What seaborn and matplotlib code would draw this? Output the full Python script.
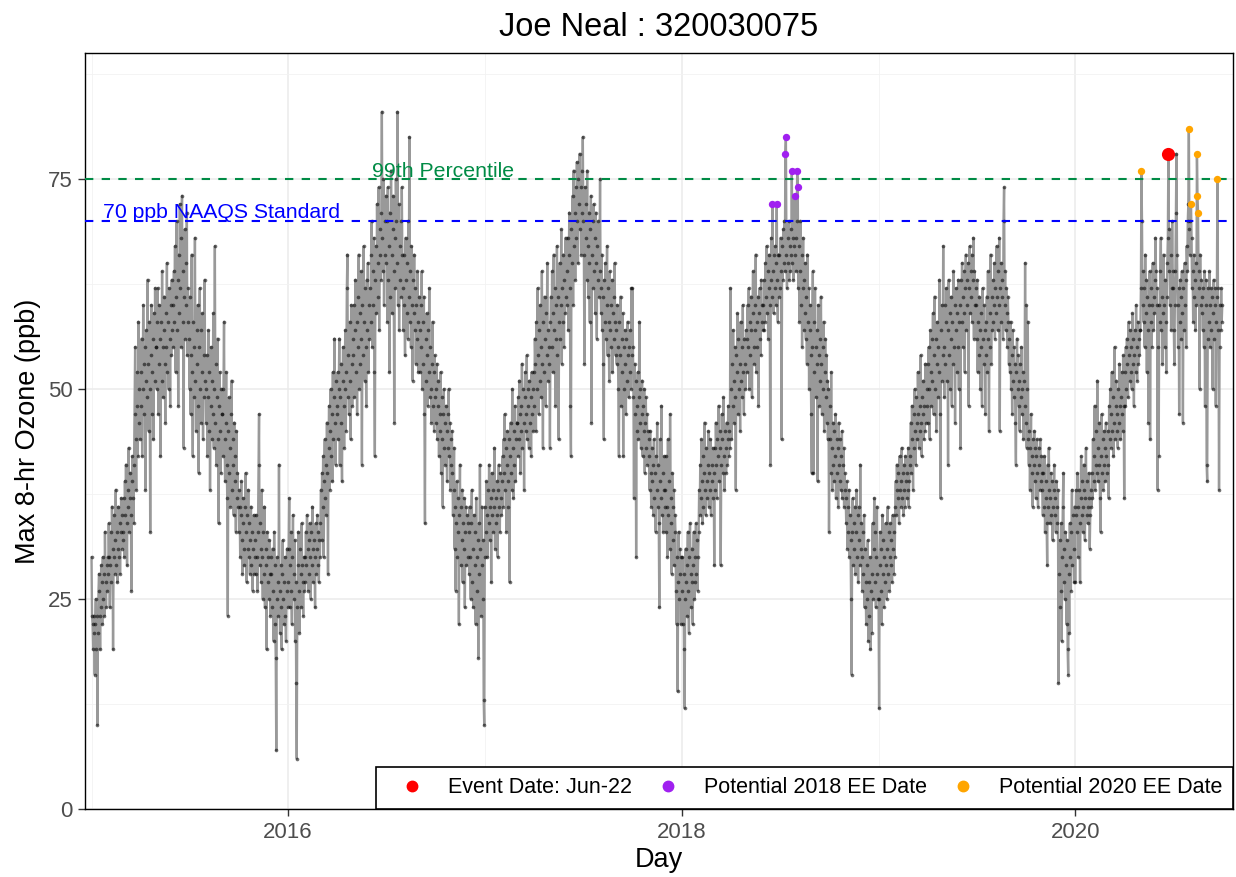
import matplotlib
matplotlib.use('Agg')
import matplotlib.pyplot as plt
import matplotlib.dates as mdates
from matplotlib.lines import Line2D
from matplotlib.ticker import MultipleLocator
import pandas as pd
import seaborn as sns

# daily max 8-hr ozone (ppb), one string per month
ozone_2015 = [
    "30 23 22 19 23 21 16 22 25 19 23 10 21 26 28 23 19 24 29 27 22 30 25 28 23 33 27 24 29 26 30",
    "28 34 30 24 29 33 27 36 31 19 30 35 28 32 38 29 33 27 31 36 30 34 28 33 37 31 35 32",
    "33 37 30 39 35 41 34 29 38 36 43 33 37 40 35 26 39 42 37 34 41 47 55 44 38 48 52 42 58 46 50",
    "44 52 48 56 42 50 60 53 47 55 38 51 57 49 63 53 45 58 50 33 54 60 47 52 56 44 59 51 62 55",
    "55 50 58 62 47 53 60 56 42 58 51 64 55 49 57 61 53 46 59 55 65 52 58 50 62 56 48 60 54 63 57",
    "60 55 64 58 67 52 61 70 57 63 48 66 59 72 62 55 68 73 58 64 43 61 69 56 65 60 71 54 62 58",
    "56 50 61 47 54 66 52 42 58 49 55 68 51 45 57 53 60 48 40 55 62 50 46 57 52 59 44 54 49 63 51",
    "50 46 54 42 49 57 45 52 38 48 55 44 51 47 59 43 50 67 46 53 41 49 56 44 34 48 52 45 40 50 47",
    "47 42 50 58 44 39 46 52 41 37 23 45 49 40 43 36 47 51 38 44 41 35 46 39 42 33 45 37 40 36",
    "38 33 36 30 35 39 32 28 34 37 31 29 36 40 33 27 35 31 38 30 34 28 32 36 29 33 26 31 35 28 30",
    "32 28 35 30 26 33 41 47 29 34 31 27 38 30 25 33 28 36 24 31 29 19 33 27 30 25 32 28 23 30",
    "28 24 31 26 20 33 29 22 18 7 25 30 27 23 41 26 21 29 24 19 28 32 25 22 27 30 23 20 26 31 24",
]
ozone_2016 = [
    "27 31 37 24 29 33 26 22 30 35 28 25 32 20 27 15 6 24 29 33 26 21 31 28 24 34 29 27 23 30 26",
    "30 27 33 29 35 31 26 32 28 34 30 25 33 29 36 31 27 32 30 24 34 28 31 35 29 33 27 32 30",
    "34 38 32 40 36 42 30 39 44 37 41 35 46 40 28 43 48 38 45 50 42 47 39 52 44 49 56 46 41 51 48",
    "47 52 44 50 56 41 49 53 46 39 51 55 48 43 50 57 45 52 62 66 49 54 47 58 51 44 60 53 48 56",
    "54 60 49 57 63 52 58 47 61 55 66 50 59 53 64 56 41 60 54 67 58 51 62 55 48 63 57 65 52 60 56",
    "62 58 66 70 55 64 60 68 52 42 63 67 59 72 65 61 74 57 69 66 63 71 83 68 64 75 60 70 66 73",
    "65 70 58 74 63 67 52 71 61 76 66 59 69 73 64 46 68 62 75 70 65 83 60 72 57 67 63 70 61 74 66",
    "62 57 66 60 54 68 63 59 65 56 70 61 80 58 64 55 67 60 51 63 59 66 57 62 53 60 56 64 58 52 61",
    "57 52 60 55 64 50 58 53 61 47 34 56 51 59 54 48 57 52 62 49 55 50 46 53 58 48 52 45 54 49",
    "50 46 53 44 48 51 42 47 45 52 40 49 44 36 47 50 43 46 41 48 45 39 47 43 50 42 46 38 44 41 45",
    "40 35 38 43 31 36 26 34 39 30 37 33 22 35 41 29 36 32 38 27 34 31 37 24 33 36 29 35 30 34",
    "33 28 36 30 25 34 38 27 31 24 35 29 33 22 37 30 26 32 18 34 28 41 31 23 36 29 25 32 13 10 30",
]
ozone_2017 = [
    "36 33 39 35 30 38 34 41 36 32 37 27 40 35 38 33 36 43 31 37 34 39 35 30 38 41 36 33 40 37 35",
    "39 42 36 44 40 47 38 43 33 41 45 39 36 44 27 42 46 40 38 50 43 37 45 41 48 39 44 46",
    "46 42 49 44 51 47 40 48 45 53 43 50 46 38 49 52 45 47 54 44 48 50 43 51 46 49 42 52 47 50 45",
    "52 48 56 53 45 58 50 62 54 47 57 51 60 55 49 64 53 43 58 52 61 56 48 59 54 65 51 57 53 55",
    "43 58 61 55 64 52 59 66 57 62 48 60 56 67 54 61 44 58 65 56 60 69 53 62 58 66 55 63 59 68 61",
    "64 60 68 57 66 71 62 48 42 69 65 73 60 76 67 71 63 74 68 77 70 65 75 72 78 69 74 66 76 71",
    "80 70 66 53 74 68 72 63 76 67 61 71 65 58 69 73 46 66 70 62 72 64 68 59 71 65 56 67 63 70 61",
    "64 75 62 59 66 57 61 53 44 63 58 65 56 60 67 54 62 58 51 64 57 60 55 63 52 59 61 56 65 58 54",
    "57 53 60 55 50 42 58 54 61 48 56 52 59 42 55 50 57 53 47 56 51 58 54 49 55 52 57 50 62 54",
    "62 55 49 37 53 47 51 30 48 45 52 44 49 58 46 50 43 47 51 42 48 45 50 40 46 49 43 47 41 45 44",
    "42 38 45 40 36 43 39 41 35 44 37 40 33 42 38 46 36 41 34 24 39 44 37 48 35 40 33 38 42 36",
    "38 33 42 36 30 44 35 39 31 47 37 34 28 40 36 32 38 29 35 33 26 22 30 14 27 33 25 31 28 22 30",
]
ozone_2018 = [
    "26 30 22 28 19 12 25 31 27 23 29 33 26 21 30 34 28 24 31 27 22 29 33 25 30 27 34 28 32 26 30",
    "33 38 35 41 37 44 39 34 42 36 40 46 38 35 43 39 37 41 45 36 40 38 44 35 41 39 43 37",
    "40 29 43 38 46 41 37 44 42 48 39 45 43 29 41 47 44 40 49 42 38 45 43 40 46 41 44 48 42 45 43",
    "62 50 44 53 48 57 51 46 55 49 38 54 52 59 47 56 50 53 45 58 51 55 49 60 52 47 56 53 50 57",
    "56 52 60 55 62 50 58 54 61 57 49 59 64 55 53 60 57 66 52 58 55 61 48 59 62 56 54 63 58 60 57",
    "60 57 63 58 65 61 67 59 64 56 62 66 60 41 63 68 61 72 64 59 66 62 67 60 65 72 63 58 66 61",
    "66 62 68 64 44 67 63 69 65 70 64 78 80 66 62 68 65 70 63 67 64 69 66 76 65 68 63 67 73 66 64",
    "68 70 76 74 62 67 58 64 70 60 66 55 62 68 57 63 59 65 56 61 53 66 58 62 50 57 60 54 47 40 55",
    "64 40 58 52 62 55 49 57 53 39 60 54 48 56 51 61 53 47 55 50 58 45 52 56 49 54 46 51 44 50",
    "33 44 48 40 52 43 38 46 41 45 39 42 47 37 44 40 43 36 46 41 39 44 38 42 45 37 41 43 36 40 38",
    "37 34 39 31 36 33 38 30 35 32 25 16 33 37 29 34 31 36 28 33 38 30 35 27 32 36 29 41 31 34",
    "30 26 33 28 35 24 31 27 22 29 25 32 20 27 23 30 19 26 21 28 34 25 31 37 27 33 24 30 36 28 25",
]
ozone_2019 = [
    "25 12 29 33 26 31 22 35 28 32 24 30 27 34 29 25 31 36 28 33 26 30 34 29 32 27 35 31 28 33 30",
    "36 39 35 41 38 37 40 34 42 38 36 39 43 37 40 35 41 38 36 42 39 37 40 38 43 36 39 41",
    "42 46 40 48 44 38 47 43 50 45 41 49 46 44 52 47 43 48 45 54 46 42 49 47 51 44 48 45 53 46 50",
    "48 53 46 55 50 44 57 52 48 56 51 59 47 54 61 50 56 45 53 58 49 55 52 63 47 37 57 51 60 54",
    "67 55 49 60 53 58 62 51 57 41 63 54 59 50 56 61 48 58 53 64 55 60 46 57 62 52 59 55 63 50 58",
    "60 43 63 58 65 55 61 59 64 52 62 66 57 63 60 65 48 62 67 59 64 61 66 58 63 68 56 64 60 62",
    "60 56 63 52 58 54 61 57 50 59 55 48 62 56 60 53 57 47 58 54 61 52 64 56 45 59 55 66 53 61 57",
    "58 63 60 65 56 62 59 67 61 57 64 60 68 45 62 58 65 61 63 56 70 74 60 64 57 62 59 55 61 58 53",
    "56 52 58 50 54 47 57 51 55 49 53 46 41 52 56 50 54 48 51 45 53 49 55 47 50 52 44 51 48 65",
    "46 60 43 50 58 44 41 45 38 43 47 40 42 36 44 41 45 39 43 37 42 44 40 36 43 41 38 44 39 42 40",
    "38 35 40 36 42 33 37 39 34 29 41 36 43 38 34 37 40 35 39 32 36 38 41 35 37 33 39 36 34 38",
    "15 28 32 24 26 34 20 30 36 40 27 31 25 33 29 22 32 19 16 28 21 34 30 26 33 38 29 35 31 27 36",
]
ozone_2020 = [
    "27 35 38 33 40 36 30 38 34 27 37 42 35 39 33 36 41 38 32 37 43 35 39 34 36 40 37 31 35 38 36",
    "40 37 44 39 42 48 38 41 45 40 51 43 39 46 41 37 33 42 47 40 44 38 45 41 43 39 46 42 40",
    "41 45 37 48 44 50 43 47 52 45 49 42 46 55 44 48 51 45 47 43 50 46 53 48 44 49 52 47 45 54 48",
    "37 52 48 55 50 56 53 49 58 54 51 57 52 55 50 59 53 56 48 54 57 52 60 55 51 58 53 56 54 57",
    "57 62 76 70 60 64 58 62 55 66 59 63 52 61 57 46 60 64 44 58 62 55 60 65 57 61 59 63 68 64 60",
    "62 38 55 42 60 58 64 68 57 61 53 59 66 60 55 63 58 52 61 65 68 78 64 69 60 66 57 62 70 64",
    "62 57 53 60 64 71 78 66 60 55 62 47 58 63 61 56 64 59 46 62 57 65 60 63 55 67 64 70 72 81 69",
    "66 70 72 68 62 64 58 66 61 63 57 65 60 78 73 71 64 62 50 66 60 63 59 61 57 62 55 64 48 60 63",
    "41 39 56 62 58 64 60 55 62 57 61 50 59 63 56 60 62 48 58 61 75 62 57 38 55 60 57 62 58 60",
]

ee_2018_dates = ['2018-06-18', '2018-06-26', '2018-07-12', '2018-07-13',
                 '2018-07-24', '2018-07-29', '2018-08-03', '2018-08-04']
ee_2018_values = [72, 72, 78, 80, 76, 73, 76, 74]
ee_2020_dates = ['2020-05-03', '2020-07-30', '2020-08-03', '2020-08-14',
                 '2020-08-15', '2020-08-16', '2020-09-21']
ee_2020_values = [76, 81, 72, 78, 73, 71, 75]
event_date = ['2020-06-22']
event_value = [78]

naaqs = 70
pct99 = 75


def build_series():
    frames = []
    for year, months in zip(range(2015, 2021),
                            [ozone_2015, ozone_2016, ozone_2017, ozone_2018, ozone_2019, ozone_2020]):
        for m, s in enumerate(months, start=1):
            vals = [int(v) for v in s.split()]
            dates = pd.date_range(f'{year}-{m:02d}-01', periods=len(vals), freq='D')
            df = pd.DataFrame({'date': dates, 'ozone': vals})
            frames.append(df[df['date'].dt.month == m])
    return pd.concat(frames, ignore_index=True)


data = build_series()
ee18 = pd.DataFrame({'date': pd.to_datetime(ee_2018_dates), 'ozone': ee_2018_values})
ee20 = pd.DataFrame({'date': pd.to_datetime(ee_2020_dates), 'ozone': ee_2020_values})
event = pd.DataFrame({'date': pd.to_datetime(event_date), 'ozone': event_value})

sns.set_theme(style='white')
plt.rcParams['font.family'] = ['Liberation Sans', 'DejaVu Sans']

fig, ax = plt.subplots(figsize=(12.36, 8.77), dpi=100)
fig.subplots_adjust(left=0.0688, right=0.9976, top=0.9396, bottom=0.0775)

sns.lineplot(data=data, x='date', y='ozone', ax=ax, color='#999999', linewidth=1.7,
             estimator=None, sort=False, zorder=2)
sns.scatterplot(data=data, x='date', y='ozone', ax=ax, color='black', s=7, alpha=0.55,
                linewidth=0, zorder=3)

ax.axhline(pct99, color='#008B45', linestyle=(0, (4, 4)), linewidth=1.5, zorder=4)
ax.axhline(naaqs, color='blue', linestyle=(0, (4, 4)), linewidth=1.5, zorder=4)
ax.text(pd.Timestamp('2016-06-05'), pct99 + 0.2, '99th Percentile', color='#008B45',
        fontsize=15.3, va='baseline', ha='left', zorder=5)
ax.text(pd.Timestamp('2015-01-23'), naaqs + 0.3, '70 ppb NAAQS Standard', color='blue',
        fontsize=15.3, va='baseline', ha='left', zorder=5)

sns.scatterplot(data=ee18, x='date', y='ozone', ax=ax, color='#A020F0', s=28, linewidth=0, zorder=6)
sns.scatterplot(data=ee20, x='date', y='ozone', ax=ax, color='#FFA500', s=28, linewidth=0, zorder=6)
sns.scatterplot(data=event, x='date', y='ozone', ax=ax, color='red', s=90, linewidth=0, zorder=7)

ax.set_xlim(pd.Timestamp('2014-12-20'), pd.Timestamp('2020-10-20'))
ax.set_ylim(0, 90)
ax.set_yticks([0, 25, 50, 75])
ax.yaxis.set_minor_locator(MultipleLocator(12.5))
ax.xaxis.set_major_locator(mdates.YearLocator(2))
ax.xaxis.set_minor_locator(mdates.YearLocator(1))
ax.xaxis.set_major_formatter(mdates.DateFormatter('%Y'))

ax.grid(which='major', color='#EBEBEB', linewidth=1.1, zorder=0)
ax.grid(which='minor', color='#F2F2F2', linewidth=0.6, zorder=0)
ax.set_axisbelow(True)
for sp in ax.spines.values():
    sp.set_color('black')
    sp.set_linewidth(1.0)
ax.tick_params(which='major', length=5, width=1.0, color='#333333', labelsize=16,
               labelcolor='#4D4D4D', pad=4, bottom=True, left=True)
ax.tick_params(which='minor', length=0)

ax.set_title('Joe Neal : 320030075', fontsize=23.5, pad=12, color='black')
ax.set_xlabel('Day', fontsize=19.5, color='black', labelpad=3)
ax.set_ylabel('Max 8-hr Ozone (ppb)', fontsize=19.5, color='black', labelpad=5)

handles = [
    Line2D([], [], marker='o', linestyle='', color='red', markersize=7.5),
    Line2D([], [], marker='o', linestyle='', color='#A020F0', markersize=7.5),
    Line2D([], [], marker='o', linestyle='', color='#FFA500', markersize=7.5),
]
labels = ['Event Date: Jun-22', 'Potential 2018 EE Date', 'Potential 2020 EE Date']
leg = ax.legend(handles, labels, ncol=3, loc='lower right', bbox_to_anchor=(1, 0),
                borderaxespad=0, frameon=True, fancybox=False, edgecolor='black',
                fontsize=15.5, handlelength=2.4, handletextpad=0.45, columnspacing=0.5,
                borderpad=0.5, framealpha=1)
leg.get_frame().set_linewidth(1.2)
for t in leg.get_texts():
    t.set_color('black')

plt.savefig('out.png', dpi=100)
plt.close()
